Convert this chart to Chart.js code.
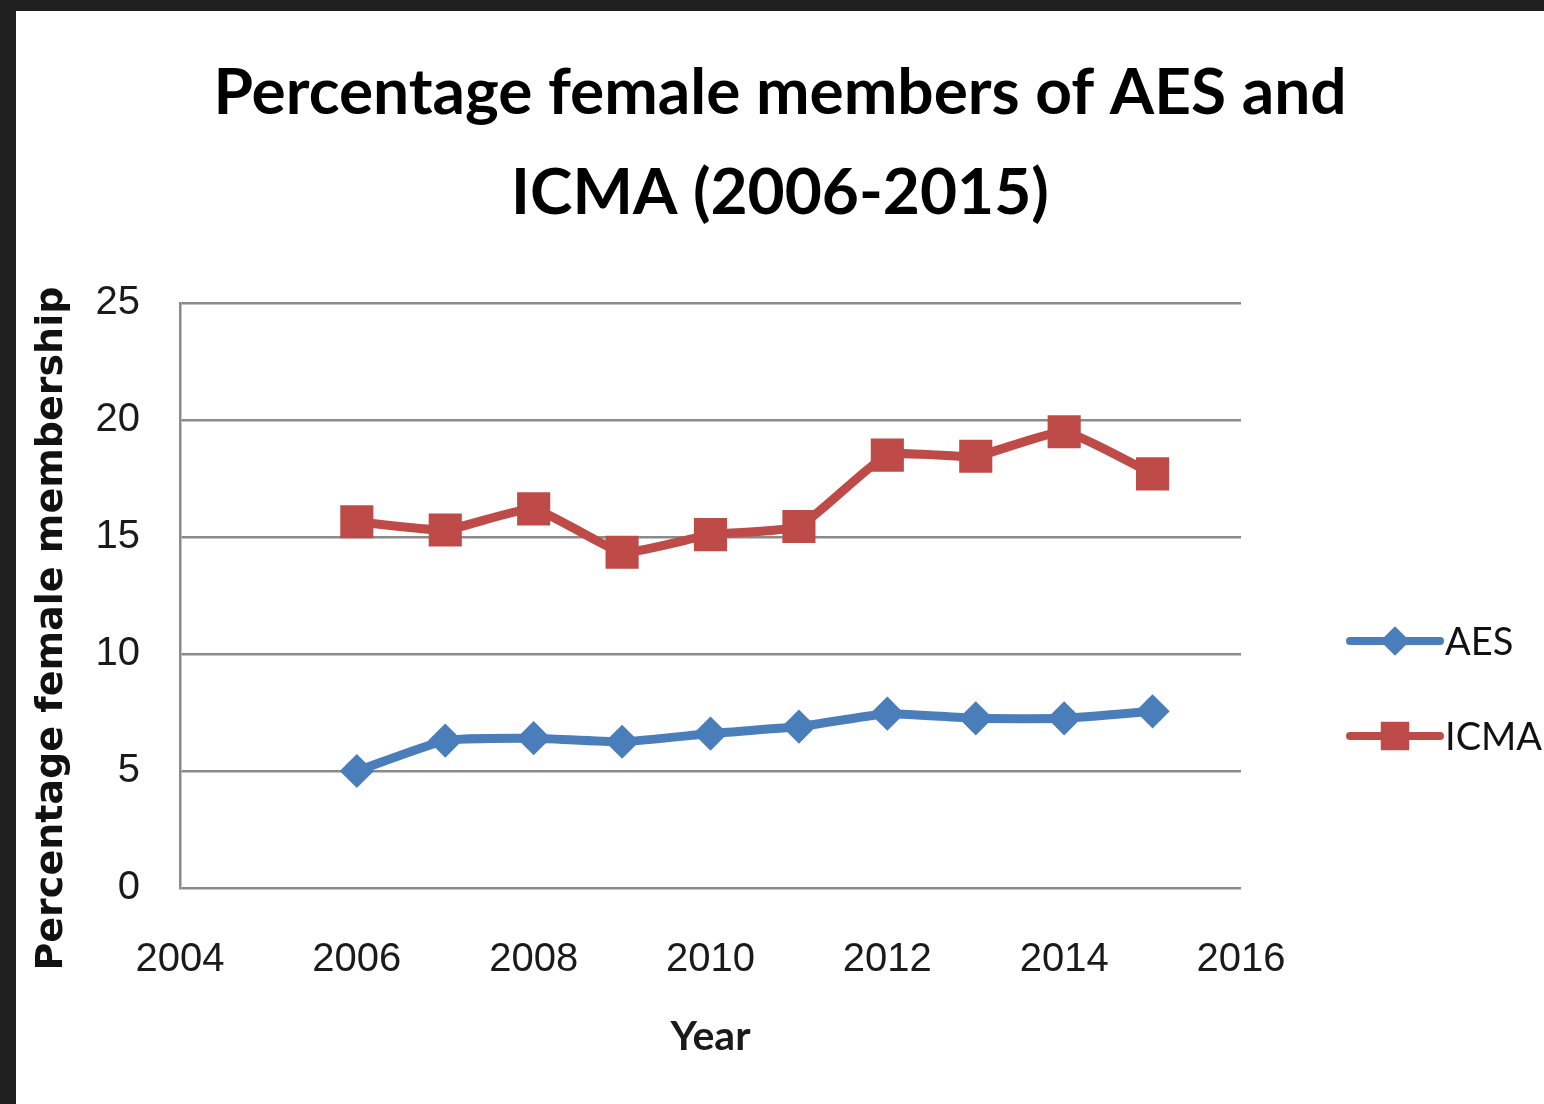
<!DOCTYPE html>
<html><head><meta charset="utf-8">
<script src="https://cdn.jsdelivr.net/npm/chart.js@4.4.1/dist/chart.umd.min.js"></script>
<style>
html,body{margin:0;padding:0;background:#202020;width:1544px;height:1104px;overflow:hidden}
#wrap{position:absolute;left:16px;top:11px;width:1528px;height:1093px;background:#fff}
</style></head><body>
<div id="wrap"><canvas id="c"></canvas></div>
<script>
const titleLines = ['Percentage female members of AES and', 'ICMA (2006-2015)'];
const years = [2006, 2007, 2008, 2009, 2010, 2011, 2012, 2013, 2014, 2015];
const aesValues = [5.0, 6.3, 6.4, 6.25, 6.6, 6.9, 7.45, 7.25, 7.25, 7.55];
const icmaValues = [15.65, 15.3, 16.2, 14.35, 15.1, 15.45, 18.5, 18.45, 19.5, 17.7];
const seriesNames = ['AES', 'ICMA'];
const xTickRange = [2004, 2016, 2];
const yTickRange = [0, 25, 5];
const xTitle = 'Year';
const yTitle = 'Percentage female membership';

const LATO = "Lato, 'Liberation Sans', Arial, sans-serif";
const SANS = "'Liberation Sans', Arial, sans-serif";
const BLUE = '#4A7EBB', RED = '#BE4B48', GRID = '#8A8A8A';

const sideLegend = {
  id: 'sideLegend',
  afterDraw(chart, args, o) {
    const ctx = chart.ctx;
    chart.data.datasets.forEach((ds, i) => {
      const y = o.y0 + i * o.gap;
      ctx.save();
      ctx.strokeStyle = ds.borderColor;
      ctx.lineWidth = o.lineWidth;
      ctx.lineCap = 'round';
      ctx.beginPath(); ctx.moveTo(o.x0, y); ctx.lineTo(o.x1, y); ctx.stroke();
      ctx.fillStyle = ds.pointBackgroundColor;
      ctx.strokeStyle = ds.pointBorderColor;
      ctx.lineWidth = ds.pointBorderWidth;
      Chart.helpers.drawPoint(ctx, {pointStyle: ds.pointStyle, radius: ds.pointRadius * 0.85, borderWidth: ds.pointBorderWidth, rotation: 0}, (o.x0 + o.x1) / 2, y);
      ctx.fillStyle = o.color;
      ctx.font = o.font;
      ctx.textAlign = 'left';
      ctx.textBaseline = 'middle';
      ctx.fillText(ds.label, o.x1 + o.textGap, y + 2);
      ctx.restore();
    });
  }
};

new Chart(document.getElementById('c'), {
  type: 'line',
  data: {
    datasets: [
      {
        label: seriesNames[0],
        data: years.map((x, i) => ({x, y: aesValues[i]})),
        borderColor: BLUE, backgroundColor: BLUE,
        pointBackgroundColor: BLUE, pointBorderColor: BLUE,
        borderWidth: 9, pointStyle: 'rectRot', pointRadius: 15, pointBorderWidth: 3,
        tension: 0.15, borderJoinStyle: 'round', fill: false
      },
      {
        label: seriesNames[1],
        data: years.map((x, i) => ({x, y: icmaValues[i]})),
        borderColor: RED, backgroundColor: RED,
        pointBackgroundColor: RED, pointBorderColor: RED,
        borderWidth: 9, pointStyle: 'rect', pointRadius: 22, pointBorderWidth: 2,
        tension: 0.15, borderJoinStyle: 'round', fill: false
      }
    ]
  },
  options: {
    responsive: true, maintainAspectRatio: false, animation: false, events: [],
    layout: {padding: 0},
    plugins: {
      legend: {display: false},
      tooltip: {enabled: false},
      title: {
        display: true, text: titleLines, color: '#000',
        font: {family: LATO, size: 64, weight: 'bold', lineHeight: 1.5625},
        padding: {top: 32, bottom: 60}
      },
      sideLegend: {x0: 1334, x1: 1424, y0: 630, gap: 95, textGap: 5, lineWidth: 8, color: '#111', font: "38px " + LATO}
    },
    scales: {
      x: {
        type: 'linear', min: xTickRange[0], max: xTickRange[1],
        ticks: {stepSize: xTickRange[2], color: '#1a1a1a', padding: 48, font: {family: SANS, size: 40}, callback: v => String(v)},
        grid: {display: false, drawTicks: false},
        border: {display: false},
        title: {display: true, text: xTitle, color: '#1a1a1a', font: {family: LATO, size: 41, weight: 'bold', lineHeight: 1.2}, padding: {top: 0, bottom: 43}},
        afterFit: s => { s.height = 216; }
      },
      y: {
        min: yTickRange[0], max: yTickRange[1],
        ticks: {stepSize: yTickRange[2], color: '#1a1a1a', padding: 40, font: {family: SANS, size: 40}},
        grid: {color: GRID, lineWidth: 2.5, drawTicks: false},
        border: {display: true, color: GRID, width: 2.5},
        title: {display: true, text: yTitle + '\u00a0\u00a0\u00a0\u00a0\u00a0', color: '#111', font: {family: "'DejaVu Sans', sans-serif", size: 38, weight: 'bold', lineHeight: 1.2}, padding: {top: 13, bottom: 0}},
        afterFit: s => { s.width = 164; }
      },
      legendSpace: {
        type: 'linear', position: 'right', display: true,
        ticks: {display: false}, grid: {display: false, drawTicks: false}, border: {display: false},
        afterFit: s => { s.width = 303; }
      }
    }
  },
  plugins: [sideLegend]
});
</script>
</body></html>
